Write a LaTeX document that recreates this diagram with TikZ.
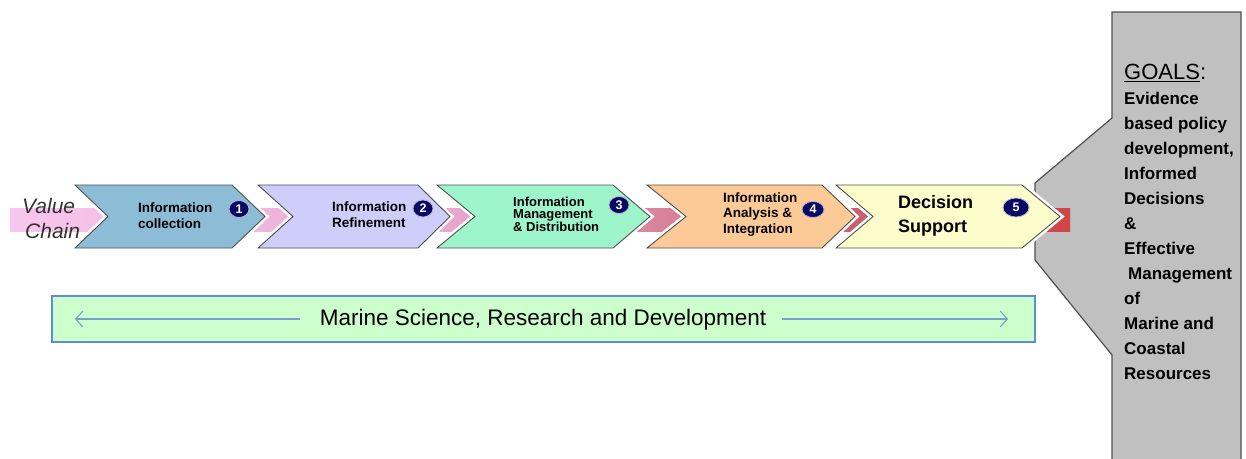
\documentclass[tikz,border=0pt]{standalone}
\usepackage{fontspec}
\setmainfont{Liberation Sans}
\usetikzlibrary{arrows.meta,shapes.geometric}
\definecolor{cA}{RGB}{141,188,214}
\definecolor{cB}{RGB}{207,205,249}
\definecolor{cC}{RGB}{158,245,204}
\definecolor{cD}{RGB}{252,202,150}
\definecolor{cE}{RGB}{253,253,203}
\definecolor{navy}{RGB}{8,8,100}
\definecolor{goalgray}{RGB}{192,192,192}
\definecolor{edgegray}{RGB}{80,80,80}
\definecolor{boxgreen}{RGB}{204,255,204}
\definecolor{boxblue}{RGB}{91,142,214}
\definecolor{arrowblue}{RGB}{120,160,205}
\definecolor{vctext}{RGB}{50,50,50}
\pgfdeclarehorizontalshading{bandshade}{100bp}{rgb(0bp)=(0.97,0.78,0.93); rgb(25bp)=(0.97,0.78,0.93); rgb(45.7bp)=(0.91,0.66,0.80); rgb(55.2bp)=(0.85,0.52,0.62); rgb(64.1bp)=(0.79,0.38,0.45); rgb(72bp)=(0.80,0.30,0.32); rgb(75bp)=(0.82,0.27,0.27); rgb(100bp)=(0.82,0.27,0.27)}
\tikzset{
  chev/.style={draw=edgegray, line width=0.9pt, line join=miter, preaction={draw=white, line width=6pt}},
  lbl/.style={font=\bfseries\fontsize{13.5}{16}\selectfont, align=left, anchor=west, inner sep=0},
  badge/.style={ellipse, fill=navy, draw=white!70!navy, line width=0.8pt, text=white, font=\bfseries\fontsize{12.5}{12.5}\selectfont, inner sep=0, minimum width=20pt, minimum height=17pt},
  arr/.style={draw=arrowblue, line width=1.1pt, -{Straight Barb[length=7pt,width=16pt]}}
}
\begin{document}
\begin{tikzpicture}[x=1pt,y=-1pt]
\useasboundingbox (0,0) rectangle (1246,458);
% goals shape
\draw[fill=goalgray, draw=edgegray, line width=1.2pt, line join=miter]
  (1112,12) -- (1241,12) -- (1241,470) -- (1112,470) -- (1112,355) -- (1035,260) -- (1035,183) -- (1112,118) -- cycle;
% value chain band
\shade[shading=bandshade] (10,208) rectangle (1070,231);
% chevrons
\draw[chev, fill=cA] (75,185) -- (232,185) -- (265,216.5) -- (232,248) -- (75,248) -- (108,216.5) -- cycle;
\draw[chev, fill=cB] (258,185) -- (418,185) -- (450,216.5) -- (418,248) -- (258,248) -- (293,216.5) -- cycle;
\draw[chev, fill=cC] (437,185) -- (613,185) -- (650,216.5) -- (613,248) -- (437,248) -- (475,216.5) -- cycle;
\draw[chev, fill=cD] (647,185) -- (822,185) -- (855,216.5) -- (822,248) -- (647,248) -- (686,216.5) -- cycle;
\draw[chev, fill=cE] (836,185) -- (1022,185) -- (1060,216.5) -- (1022,248) -- (836,248) -- (873,216.5) -- cycle;
% labels
\node[lbl] (t1) at (138,216) {Information\\collection};
\node[lbl] (t2) at (332,215) {Information\\Refinement};
\node[lbl, font=\bfseries\fontsize{13}{12.5}\selectfont] (t3) at (513,214) {Information\\Management\\\& Distribution};
\node[lbl, font=\bfseries\fontsize{13.5}{15.5}\selectfont] (t4) at (723,214.5) {Information\\Analysis \&\\Integration};
\node[lbl, font=\bfseries\fontsize{18}{24}\selectfont] (t5) at (898,216) {Decision\\Support};
% badges
\node[badge] (n1) at (239,209) {1};
\node[badge] (n2) at (423,208.5) {2};
\node[badge] (n3) at (619,205) {3};
\node[badge, minimum width=22pt, minimum height=16pt] (n4) at (813,209.5) {4};
\node[badge, minimum width=26pt, minimum height=19pt] (n5) at (1016,207.5) {5};
% value chain text
\node[anchor=north west, inner sep=0, align=left, text=vctext, font=\itshape\fontsize{21}{25}\selectfont] (vc) at (22,198) {Value\\\hspace{3pt}Chain};
% goals text
\node[anchor=north west, inner sep=0, align=left, font=\bfseries\fontsize{17}{25}\selectfont] (goals) at (1124,64)
 {{\mdseries\fontsize{22}{25}\selectfont\underline{GOALS}:}\\Evidence\\based policy\\development,\\Informed\\Decisions\\\&\\Effective\\\hspace{4pt}Management\\of\\Marine and\\Coastal\\Resources};
% marine box
\node[draw=boxblue, fill=boxgreen, line width=2pt, minimum width=983pt, minimum height=46pt, inner sep=0] (mbox) at (543.5,319) {};
\node[font=\fontsize{22.5}{24}\selectfont, inner sep=0] (mtext) at (543,320) {Marine Science, Research and Development};
\coordinate (ml) at (300,319);
\coordinate (mle) at (75,319);
\coordinate (mr) at (782,319);
\coordinate (mre) at (1008,319);
\draw[arr] (ml) -- (mle);
\draw[arr] (mr) -- (mre);
\end{tikzpicture}
\end{document}
